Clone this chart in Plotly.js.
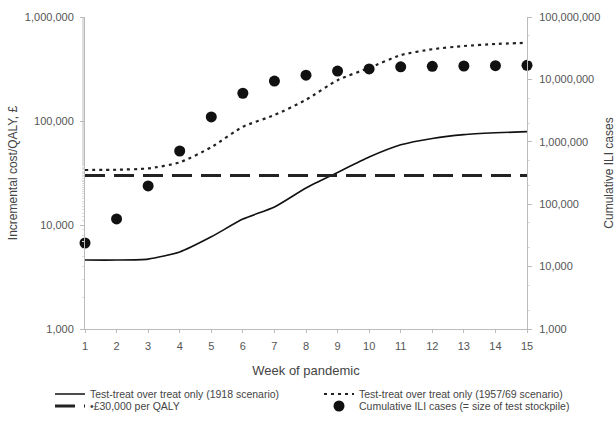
<!DOCTYPE html>
<html><head><meta charset="utf-8">
<script src="https://cdn.plot.ly/plotly-3.0.1.min.js"></script>
<style>html,body{margin:0;padding:0;background:#fff}#chart{width:616px;height:421px}</style>
</head><body><div id="chart"></div>
<script>
const weeks = [1,2,3,4,5,6,7,8,9,10,11,12,13,14,15];
const cost1918 = [4600,4600,4700,5500,7700,11400,14900,22700,32000,45000,59000,68000,74000,77000,79000];
const cost1957 = [33800,34000,35000,40000,56000,88000,114000,160000,247000,324000,430000,490000,526000,550000,565000];
const threshold = [30000,30000,30000,30000,30000,30000,30000,30000,30000,30000,30000,30000,30000,30000,30000];
const iliCases = [23900,58000,196000,712000,2500000,6000000,9400000,11700000,13600000,14700000,15900000,16200000,16400000,16600000,16800000];
const leftTicks = [1000,10000,100000,1000000];
const leftLabels = ['1,000','10,000','100,000','1,000,000'];
const rightTicks = [1000,10000,100000,1000000,10000000,100000000];
const rightLabels = ['1,000','10,000','100,000','1,000,000','10,000,000','100,000,000'];

const fam = 'Liberation Sans, Arial, sans-serif';
const font = {family:fam, size:11, color:'#555'};
const traces = [
  {x:weeks, y:cost1918, mode:'lines', name:'Test-treat over treat only (1918 scenario)', legend:'legend', line:{color:'#111', width:1.6, shape:'spline', smoothing:0.6}, yaxis:'y'},
  {x:weeks, y:cost1957, mode:'lines', name:'Test-treat over treat only (1957/69 scenario)', legend:'legend2', line:{color:'#222', width:2.2, dash:'3px,4px', shape:'spline', smoothing:0.6}, yaxis:'y'},
  {x:weeks, y:threshold, mode:'lines', name:'•£30,000 per QALY', legend:'legend3', line:{color:'#222', width:3, dash:'20px,9px'}, yaxis:'y'},
  {x:weeks, y:iliCases, mode:'markers', name:'Cumulative ILI cases (= size of test stockpile)', legend:'legend4', marker:{color:'#111', size:11}, yaxis:'y2', cliponaxis:false}
];
const legFont = {family:fam, size:10.5, color:'#444'};
function leg(px, py){
  return {orientation:'h', xref:'container', yref:'container', x:px/616, xanchor:'left', y:(421-py)/421, yanchor:'middle', itemwidth:30, font:legFont, bgcolor:'rgba(0,0,0,0)', borderwidth:0};
}
const layout = {
  width:616, height:421,
  margin:{l:85, r:89, t:17, b:92, autoexpand:false},
  paper_bgcolor:'#fff', plot_bgcolor:'#fff',
  font:font,
  showlegend:true,
  legend:leg(50, 394),
  legend2:leg(319, 394),
  legend3:leg(50, 406),
  legend4:leg(319, 406),
  xaxis:{range:[1,15], tickvals:weeks, showgrid:false, zeroline:false, showline:true, linecolor:'#bbb', linewidth:1, ticks:'outside', ticklen:3, tickcolor:'#bbb', tickfont:font, ticklabelstandoff:4,
    title:{text:'Week of pandemic', font:{family:fam, size:13, color:'#444'}, standoff:14}},
  yaxis:{type:'log', range:[3,6], tickvals:leftTicks, ticktext:leftLabels, showgrid:false, zeroline:false, showline:true, linecolor:'#bbb', ticks:'outside', ticklen:4, tickcolor:'#bbb', tickfont:font, ticklabelstandoff:4,
    minor:{ticks:'outside', ticklen:2, tickcolor:'#ddd', showgrid:false},
    title:{text:'Incremental cost/QALY, £', font:{family:fam, size:12, color:'#444'}, standoff:4}},
  yaxis2:{type:'log', range:[3,8], overlaying:'y', side:'right', tickvals:rightTicks, ticktext:rightLabels, showgrid:false, zeroline:false, showline:true, linecolor:'#bbb', ticks:'outside', ticklen:4, tickcolor:'#bbb', tickfont:font, ticklabelstandoff:5,
    minor:{ticks:'outside', ticklen:2, tickcolor:'#ddd', showgrid:false},
    title:{text:'Cumulative ILI cases', font:{family:fam, size:12, color:'#444'}, standoff:8}}
};
Plotly.newPlot('chart', traces, layout, {displayModeBar:false, staticPlot:true});
</script></body></html>
